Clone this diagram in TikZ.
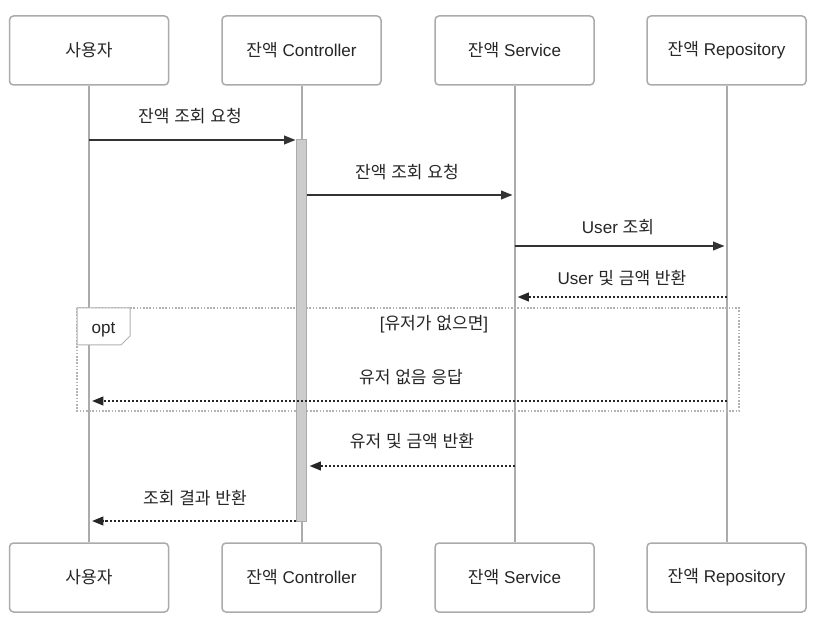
\documentclass[tikz,border=0pt]{standalone}
\usepackage{fontspec}
\setmainfont{Liberation Sans}
\newfontfamily\kr{Noto Sans CJK KR}
\usetikzlibrary{arrows.meta,calc}
\begin{document}
\begin{tikzpicture}[x=0.75pt,y=-0.75pt,
  font=\fontsize{12.8}{15}\selectfont,
  part/.style={draw=black!33,line width=1.5*0.75pt,rounded corners=3pt,fill=white,
    minimum width=159*0.75pt,minimum height=69*0.75pt,inner sep=0pt,text=black!85},
  life/.style={draw=black!33,line width=2*0.75pt},
  actbar/.style={draw=black!33,fill=black!20,line width=0.75pt,minimum width=10*0.75pt,inner sep=0pt},
  msg/.style={draw=black!80,line width=1.5*0.75pt,-{Triangle[length=8.5pt,width=6.5pt]}},
  ret/.style={msg,draw=black!85,line width=2*0.75pt,dash pattern=on 1.5pt off 1.5pt},
  lbl/.style={text=black!85,inner sep=0pt,anchor=base}]
\useasboundingbox (0,0) rectangle (826,638);
\fill[white] (0,0) rectangle (826,638);
% participants
\node[part] (pA) at (89,50.5) {{\kr 사용자}};
\node[part] (pB) at (301.5,50.5) {{\kr 잔액} Controller};
\node[part] (pC) at (514.5,50.5) {{\kr 잔액} Service};
\node[part] (pD) at (726.5,50.5) {{\kr 잔액} Repository};
\node[part] (bA) at (89,577.5) {{\kr 사용자}};
\node[part] (bB) at (301.5,577.5) {{\kr 잔액} Controller};
\node[part] (bC) at (514.5,577.5) {{\kr 잔액} Service};
\node[part] (bD) at (726.5,577.5) {{\kr 잔액} Repository};
% lifelines
\draw[life] (pA.south) -- (bA.north);
\draw[life] (pB.south) -- (bB.north);
\draw[life] (pC.south) -- (bC.north);
\draw[life] (pD.south) -- (bD.north);
% opt frame
\draw[draw=black!30,line width=1.5*0.75pt,dash pattern=on 1.2pt off 1.2pt] (77,308) rectangle (739,411);
\filldraw[draw=black!30,fill=white,line width=0.75pt] (77,308) -- (130,308) -- (130,336) -- (121,345) -- (77,345) -- cycle;
\node[lbl] (optlbl) at (103.5,334) {opt};
\node[lbl] (cond) at (434,330) {[{\kr 유저가} {\kr 없으면}]};
% activation
\node[actbar,minimum height=381*0.75pt] (act) at (301,330.5) {};
% y levels
\coordinate (y1) at (0,140);
\coordinate (y2) at (0,195);
\coordinate (y3) at (0,246);
\coordinate (y4) at (0,297);
\coordinate (y5) at (0,401);
\coordinate (y6) at (0,466);
\coordinate (y7) at (0,521);
% messages
\draw[msg] (pA |- y1) -- (act.west |- y1);
\node[lbl] (l1) at (190,123) {{\kr 잔액} {\kr 조회} {\kr 요청}};
\draw[msg] (act.east |- y2) -- ($(pC |- y2)+(-2,0)$);
\node[lbl] (l2) at (407,179) {{\kr 잔액} {\kr 조회} {\kr 요청}};
\draw[msg] (pC |- y3) -- ($(pD |- y3)+(-2,0)$);
\node[lbl] (l3) at (618,234) {User {\kr 조회}};
\draw[ret] (pD |- y4) -- ($(pC |- y4)+(3,0)$);
\node[lbl] (l4) at (622,285) {User {\kr 및} {\kr 금액} {\kr 반환}};
\draw[ret] (pD |- y5) -- ($(pA |- y5)+(3,0)$);
\node[lbl] (l5) at (411,384) {{\kr 유저} {\kr 없음} {\kr 응답}};
\draw[ret] (pC |- y6) -- ($(act.east |- y6)+(3,0)$);
\node[lbl] (l6) at (412,448) {{\kr 유저} {\kr 및} {\kr 금액} {\kr 반환}};
\draw[ret] (act.west |- y7) -- ($(pA |- y7)+(3,0)$);
\node[lbl] (l7) at (195,504) {{\kr 조회} {\kr 결과} {\kr 반환}};
\end{tikzpicture}
\end{document}
